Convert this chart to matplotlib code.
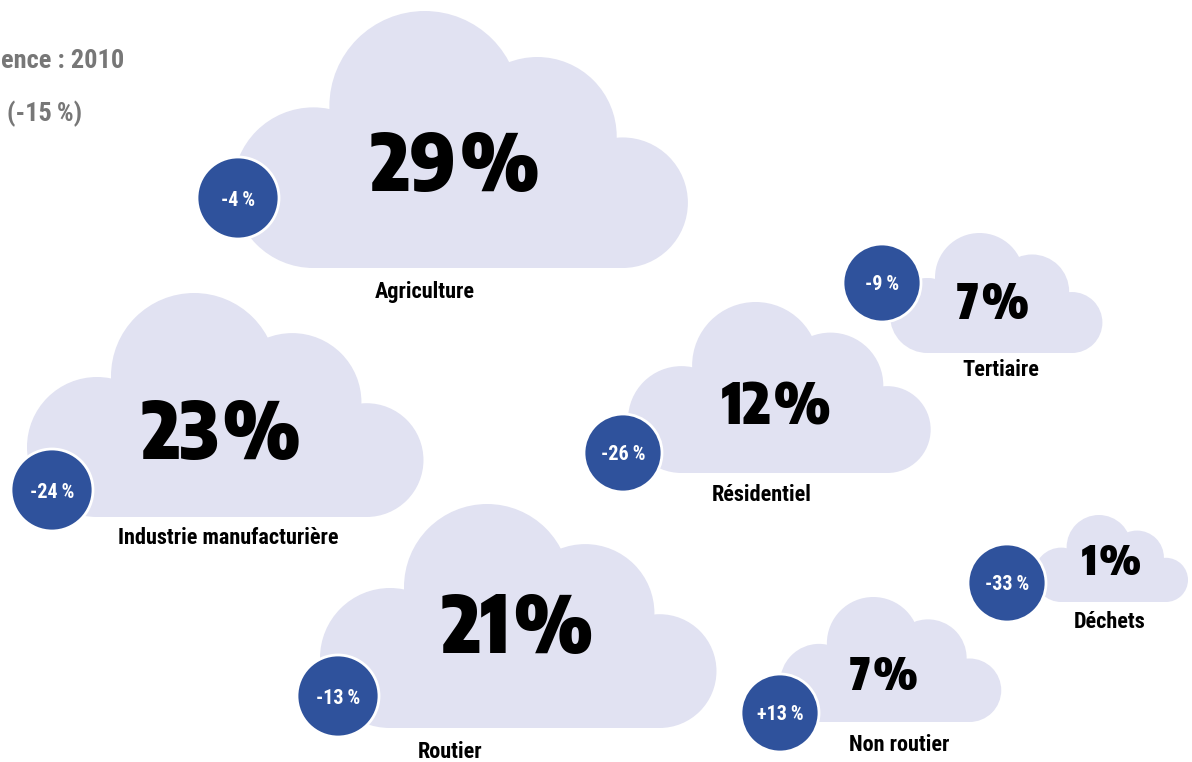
import os

import matplotlib

matplotlib.use('Agg')
import matplotlib.pyplot as plt
import matplotlib.font_manager as fm
from matplotlib.ft2font import FT2Font
from matplotlib.patches import Circle, Rectangle

# Data
sectors = ['Agriculture', 'Industrie manufacturière', 'Résidentiel', 'Tertiaire',
           'Routier', 'Non routier', 'Déchets']
shares = [29, 23, 12, 7, 21, 7, 1]
changes = [-4, -24, -26, -9, -13, 13, -33]
ref_year = 2010
total_change = -15

# Layout (pixels, y going down)
cloud_left = [233, 27, 628, 890, 320, 780, 1034]
cloud_bottom = [268, 517, 473, 353, 728, 722, 602]
cloud_height = [257, 224, 171, 120, 224, 125, 87]
share_xy = [(455, 168), (221, 436), (776, 408), (993, 305), (518, 630), (884, 677), (1112, 563)]
share_size = [57, 56, 41, 34, 57, 32, 30]
bubble_xy = [(238, 198), (52, 490), (623, 453), (882, 283), (338, 696), (780, 713), (1007, 583)]
bubble_r = [41, 41, 39, 39, 41, 39, 39]
label_xy = [(425, 292), (228, 538), (762, 495), (1001, 370), (450, 752), (899, 745), (1110, 622)]

CLOUD = '#E1E2F2'
BLUE = '#2F529C'
GREY = '#777777'

# cloud template, unit height, (cx, cy, r) measured from bottom-left
lobes = [(0.3125, 0.3125, 0.3125), (0.746, 0.629, 0.371),
         (1.184, 0.512, 0.309), (1.516, 0.254, 0.254)]

font_files = {os.path.splitext(os.path.basename(f.fname))[0].lower(): f.fname
              for f in fm.fontManager.ttflist}


def pick_font(wanted, spaces):
    """First installed face of the list, plus a narrow space it can draw."""
    for key in wanted:
        path = font_files.get(key.lower())
        if path is None:
            continue
        sp = ''
        try:
            cmap = FT2Font(path).get_charmap()
            sp = next((chr(c) for c in spaces if c in cmap), '')
        except Exception:
            pass
        return fm.FontProperties(fname=path), sp
    return fm.FontProperties(family=['Roboto', 'DejaVu Sans'], weight='bold'), '\u2009'


big_font, big_sp = pick_font(['RobotoCondensed-Black', 'RobotoCondensed-ExtraBold',
                              'EncodeSansCondensed-Black', 'EncodeSansCondensed-ExtraBold',
                              'RobotoCondensed-Bold', 'DejaVuSansCondensed-Bold'],
                             (0x200A, 0x2009, 0x202F))
txt_font, txt_sp = pick_font(['RobotoCondensed-Bold', 'EncodeSansCondensed-Bold',
                              'ArchivoNarrow-Bold', 'DejaVuSansCondensed-Bold'],
                             (0x2009, 0x202F, 0x200A))


def draw_cloud(ax, left, bottom, h):
    for cx, cy, r in lobes:
        ax.add_patch(Circle((left + cx * h, bottom - cy * h), r * h,
                            facecolor=CLOUD, edgecolor='none', zorder=1))
    ax.add_patch(Rectangle((left + 0.3125 * h, bottom - 0.33 * h), (1.516 - 0.3125) * h, 0.33 * h,
                           facecolor=CLOUD, edgecolor='none', zorder=1))


fig = plt.figure(figsize=(11.92, 7.62), dpi=100, facecolor='white')
ax = fig.add_axes([0, 0, 1, 1])
ax.set_xlim(0, 1192)
ax.set_ylim(762, 0)
ax.set_aspect('equal')
ax.axis('off')

for i, name in enumerate(sectors):
    draw_cloud(ax, cloud_left[i], cloud_bottom[i], cloud_height[i])
    ax.text(share_xy[i][0], share_xy[i][1], '{}{}%'.format(shares[i], big_sp),
            ha='center', va='center', fontproperties=big_font, fontsize=share_size[i],
            color='black', zorder=4)
    ax.add_patch(Circle(bubble_xy[i], bubble_r[i], facecolor=BLUE, edgecolor='white',
                        linewidth=2, zorder=3))
    sign = '+' if changes[i] > 0 else ''
    ax.text(bubble_xy[i][0], bubble_xy[i][1] + 2, '{}{}{}%'.format(sign, changes[i], txt_sp),
            ha='center', va='center', fontproperties=txt_font, fontsize=14.5,
            color='white', zorder=4)
    ax.text(label_xy[i][0], label_xy[i][1], name, ha='center', va='center',
            fontproperties=txt_font, fontsize=16, color='black', zorder=4)

# header lines, only their ends are visible in the original
ax.text(1, 61, 'ence : {}'.format(ref_year), ha='left', va='center',
        fontproperties=txt_font, fontsize=19, color=GREY)
ax.text(7, 114, '({}{}%)'.format(total_change, txt_sp), ha='left', va='center',
        fontproperties=txt_font, fontsize=19, color=GREY)

fig.savefig('out.png', dpi=100, facecolor='white')
